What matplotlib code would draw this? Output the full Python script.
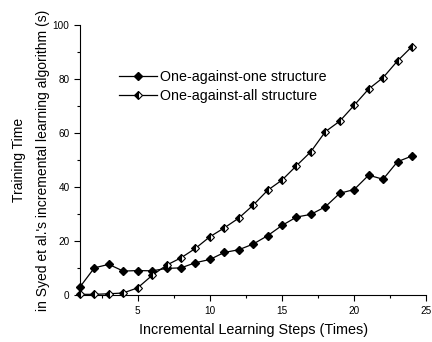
import matplotlib
matplotlib.use("Agg")
import matplotlib.pyplot as plt
from matplotlib.ticker import MultipleLocator

plt.rcParams['font.family'] = ['Liberation Sans', 'DejaVu Sans']

steps = list(range(1, 25))
one_vs_one = [3.0, 10.1, 11.4, 8.9, 9.1, 9.0, 9.9, 10.1, 12.0, 13.2, 15.8, 16.8,
              18.9, 22.0, 25.8, 28.9, 29.9, 32.7, 37.7, 39.1, 44.4, 42.9, 49.4, 51.5]
one_vs_all = [0.3, 0.3, 0.5, 0.8, 2.7, 7.3, 11.1, 13.8, 17.3, 21.6, 24.9, 28.5,
              33.3, 38.8, 42.6, 47.9, 53.1, 60.5, 64.4, 70.3, 76.3, 80.5, 86.7, 92.0]
labels = ['One-against-one structure', 'One-against-all structure']

fig = plt.figure(figsize=(4.32, 3.42), dpi=100)
ax = fig.add_axes([0.185, 0.137, 0.802, 0.79])

ax.plot(steps, one_vs_one, color='black', lw=0.9, marker='D', ms=4.5,
        mfc='black', mec='black', label=labels[0], clip_on=False, zorder=3)
ax.plot(steps, one_vs_all, color='black', lw=0.9, marker='D', ms=4.5,
        fillstyle='left', mfc='black', mfcalt='white', mec='black', mew=0.8,
        label=labels[1], clip_on=False, zorder=3)

ax.set_xlim(1, 25)
ax.set_ylim(0, 100)
ax.xaxis.set_major_locator(MultipleLocator(5))
ax.xaxis.set_minor_locator(MultipleLocator(2.5))
ax.yaxis.set_major_locator(MultipleLocator(20))
ax.yaxis.set_minor_locator(MultipleLocator(10))
ax.set_xticks([5, 10, 15, 20, 25])
ax.tick_params(which='major', direction='out', length=4, width=0.8, labelsize=7.2)
ax.tick_params(which='minor', direction='out', length=2, width=0.8)
for s in ['top', 'right']:
    ax.spines[s].set_visible(False)

ax.set_xlabel('Incremental Learning Steps (Times)', fontsize=10.4, labelpad=5)
ax.set_ylabel("Training Time\nin Syed et al.'s incremental learning algorithm (s)",
              fontsize=10, labelpad=2, linespacing=1.9)

leg = ax.legend(loc='upper left', bbox_to_anchor=(0.075, 0.88), frameon=False,
                fontsize=10.3, handlelength=2.7, handletextpad=0.2, labelspacing=0.3)

fig.savefig('out.png', dpi=100)
